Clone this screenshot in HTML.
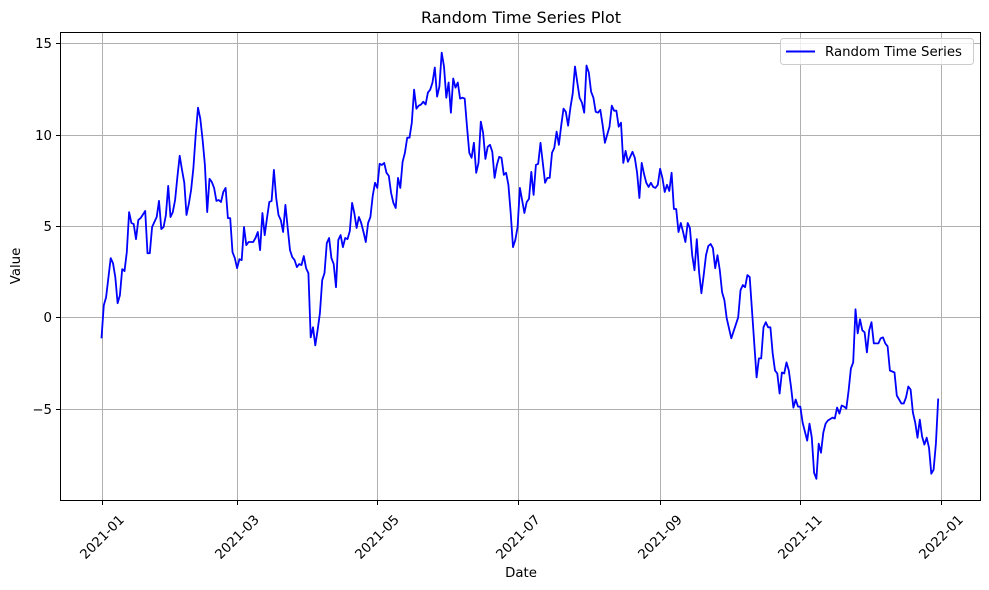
<!DOCTYPE html>
<html><head><meta charset="utf-8"><style>
body{margin:0;background:#fff;}
svg{display:block;font-family:"DejaVu Sans","Liberation Sans",sans-serif;}
</style></head><body>
<svg id="chart" width="989" height="590" viewBox="0 0 989 590" xmlns="http://www.w3.org/2000/svg">
<rect width="989" height="590" fill="#fff"/>
<g id="grid"></g>
<g id="series"></g>
<rect x="60.5" y="32.5" width="920" height="468" fill="none" stroke="#000" stroke-width="1"/>
<g id="ticks"></g>
<text x="521" y="23" font-size="16" text-anchor="middle">Random Time Series Plot</text>
<text x="521" y="577" font-size="13.3" text-anchor="middle">Date</text>
<text transform="translate(20,266) rotate(-90)" font-size="13.3" text-anchor="middle">Value</text>
<g>
<rect x="780.5" y="38.5" width="193" height="26" rx="3" fill="#fff" fill-opacity="0.8" stroke="#ccc"/>
<line x1="786" y1="51.5" x2="815" y2="51.5" stroke="#0000ff" stroke-width="2"/>
<text x="825" y="56" font-size="13.3">Random Time Series</text>
</g>
</svg>
<script>
const days = [0,1,2,4,5,6,7,8,9,10,11,12,13,14,15,16,17,19,20,21,22,24,25,26,27,28,29,30,31,32,33,34,35,36,37,38,39,40,41,42,43,44,45,46,47,48,49,50,51,52,53,54,55,56,57,58,59,60,61,62,63,64,66,67,68,69,70,71,72,73,74,75,76,77,78,79,80,81,82,83,84,85,86,87,88,89,90,91,92,93,94,95,96,97,98,99,100,101,102,103,104,105,106,107,108,109,110,111,112,113,114,115,116,117,118,119,120,121,122,123,124,125,126,127,128,129,130,131,132,133,134,135,136,137,138,139,140,141,142,143,144,145,146,147,148,149,150,151,152,153,154,155,156,157,158,159,160,161,162,163,164,165,166,167,168,169,170,171,172,173,174,175,176,177,178,179,180,181,182,183,184,185,186,187,188,189,190,191,193,194,195,196,197,198,199,200,201,202,203,204,205,206,207,208,209,210,211,212,213,214,215,216,217,218,219,220,221,222,223,224,225,226,227,228,229,230,231,232,233,234,235,236,237,238,239,240,241,242,243,244,245,246,247,248,249,250,251,252,253,254,255,256,257,258,259,260,261,262,263,264,265,266,267,268,269,270,271,272,273,274,277,278,279,280,281,282,283,285,286,287,288,289,290,291,292,293,294,295,296,297,298,299,300,301,302,303,304,305,307,308,309,310,311,312,313,314,315,316,318,319,320,321,322,323,324,325,326,327,328,329,330,331,332,333,334,335,336,338,339,340,341,342,343,345,346,348,349,350,351,352,353,354,355,356,357,358,359,360,361,362,363,364];
const values = [-1.15,0.66,1.10,3.24,2.96,2.20,0.77,1.21,2.64,2.53,3.57,5.76,5.16,5.10,4.28,5.32,5.43,5.82,3.51,3.51,4.94,5.49,6.37,4.83,4.94,5.60,7.19,5.49,5.76,6.42,7.69,8.84,8.07,7.36,5.60,6.20,6.97,8.18,9.99,11.47,10.87,9.72,8.34,5.76,7.58,7.41,7.08,6.37,6.42,6.31,6.86,7.08,5.43,5.43,3.57,3.24,2.69,3.18,3.13,4.94,3.95,4.12,4.12,4.34,4.67,3.68,5.71,4.50,5.43,6.31,6.37,8.07,6.53,5.60,5.32,4.67,6.15,4.89,3.68,3.29,3.13,2.75,2.91,2.86,3.35,2.69,2.42,-1.10,-0.55,-1.54,-0.71,0.22,2.03,2.42,4.06,4.34,3.24,2.91,1.65,4.23,4.50,3.84,4.34,4.28,4.72,6.26,5.71,4.89,5.49,5.16,4.67,4.12,5.16,5.49,6.64,7.36,7.08,8.40,8.34,8.45,7.91,7.74,6.81,6.26,5.98,7.63,7.08,8.51,9.00,9.83,9.83,10.65,12.46,11.42,11.58,11.64,11.80,11.64,12.30,12.46,12.85,13.67,12.08,12.63,14.49,13.73,12.02,12.85,11.20,13.07,12.57,12.85,11.97,12.02,11.97,10.43,9.00,8.73,9.55,7.91,8.45,10.71,10.10,8.67,9.33,9.44,9.06,7.63,8.34,8.78,8.73,7.80,7.91,7.25,5.71,3.84,4.23,4.94,7.08,6.42,5.71,6.31,6.48,7.96,6.70,8.34,8.40,9.55,7.36,7.63,7.63,9.00,9.28,10.16,9.44,10.49,11.42,11.25,10.49,11.47,12.24,13.73,12.85,12.02,11.75,11.20,13.78,13.40,12.35,12.02,11.25,11.20,11.36,10.54,9.55,9.99,10.43,11.58,11.31,11.31,10.43,10.65,8.45,9.11,8.51,8.78,9.06,8.73,7.91,6.53,8.45,7.85,7.36,7.14,7.36,7.14,7.08,7.25,8.13,7.63,6.86,7.25,6.92,7.91,5.93,5.93,4.67,5.16,4.67,4.12,5.16,4.89,3.40,2.58,4.28,2.47,1.32,2.31,3.40,3.90,4.01,3.79,2.69,3.40,2.58,1.37,0.93,-0.05,-0.60,-1.15,0.0,1.48,1.76,1.65,2.31,2.20,0.38,-3.29,-2.25,-2.25,-0.55,-0.27,-0.55,-0.55,-1.98,-2.91,-3.07,-4.17,-3.02,-3.07,-2.47,-2.91,-3.84,-4.94,-4.50,-4.89,-4.89,-5.76,-6.75,-5.82,-6.59,-8.51,-8.84,-6.92,-7.41,-6.31,-5.82,-5.65,-5.49,-5.54,-4.94,-5.27,-4.83,-4.89,-5.00,-4.01,-2.80,-2.47,0.44,-0.88,-0.11,-0.71,-0.82,-1.92,-0.71,-0.27,-1.43,-1.43,-1.15,-1.10,-1.43,-1.59,-2.91,-3.02,-4.28,-4.72,-4.72,-4.39,-3.79,-3.95,-5.21,-5.76,-6.59,-5.60,-6.53,-6.97,-6.59,-7.14,-8.56,-8.34,-6.92,-4.45];
const yTicks = [-5,0,5,10,15];
const yTickLabels = ["\u22125","0","5","10","15"];
const xTickDays = [0,59,120,181,243,304,365];
const xTickLabels = ["2021-01","2021-03","2021-05","2021-07","2021-09","2021-11","2022-01"];

const NS = "http://www.w3.org/2000/svg";
const xScale = d => 101.5 + d * (839 / 365);
const yScale = v => 317.3 - v * 18.27;

const grid = document.getElementById('grid');
const ticks = document.getElementById('ticks');
function mk(tag, attrs){ const e=document.createElementNS(NS,tag); for(const k in attrs) e.setAttribute(k,attrs[k]); return e; }

yTicks.forEach((v,i)=>{
  const y = Math.round(yScale(v))+0.5;
  const g = mk('line',{x1:60.5,x2:980.5,y1:y,y2:y,stroke:'#b0b0b0','stroke-width':1});
  
  
  grid.appendChild(g);
  const t = mk('line',{x1:56,x2:60.5,y1:y,y2:y,stroke:'#000','stroke-width':1});
  
  
  ticks.appendChild(t);
  const l = mk('text',{x:52,y:y+4.5,'font-size':13.3,'text-anchor':'end'});
  l.textContent = yTickLabels[i];
  
  
  ticks.appendChild(l);
});
xTickDays.forEach((d,i)=>{
  const x = Math.round(xScale(d))+0.5;
  const g = mk('line',{x1:x,x2:x,y1:32.5,y2:500.5,stroke:'#b0b0b0','stroke-width':1});
  
  
  grid.appendChild(g);
  const t = mk('line',{x1:x,x2:x,y1:500.5,y2:505,stroke:'#000','stroke-width':1});
  
  
  ticks.appendChild(t);
  const l = mk('text',{x:0,y:4.5,'font-size':13.3,'text-anchor':'middle',transform:`translate(${x-0.5},537) rotate(-45)`});
  l.textContent = xTickLabels[i];
  
  
  ticks.appendChild(l);
});
const pts = days.map((d,i)=>xScale(d).toFixed(1)+','+yScale(values[i]).toFixed(1)).join(' ');
const line = mk('polyline',{points:pts,fill:'none',stroke:'#0000ff','stroke-width':1.8,'stroke-linejoin':'round'});


document.getElementById('series').appendChild(line);
</script>
</body></html>
